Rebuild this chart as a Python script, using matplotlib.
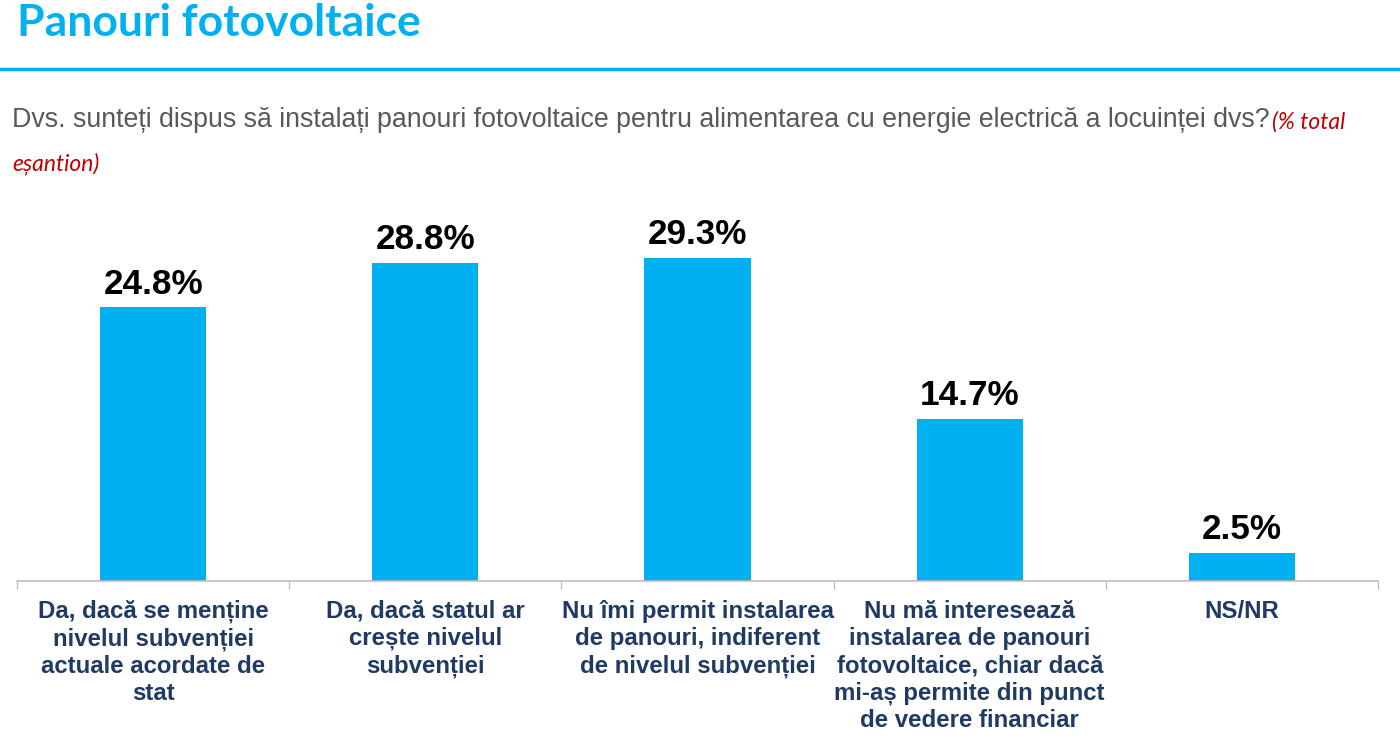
import matplotlib
matplotlib.use("Agg")
import matplotlib.pyplot as plt

categories = [
    "Da, dacă se menține\nnivelul subvenției\nactuale acordate de\nstat",
    "Da, dacă statul ar\ncrește nivelul\nsubvenției",
    "Nu îmi permit instalarea\nde panouri, indiferent\nde nivelul subvenției",
    "Nu mă interesează\ninstalarea de panouri\nfotovoltaice, chiar dacă\nmi-aș permite din punct\nde vedere financiar",
    "NS/NR",
]
values = [24.8, 28.8, 29.3, 14.7, 2.5]
value_labels = ["24.8%", "28.8%", "29.3%", "14.7%", "2.5%"]

title = "Panouri fotovoltaice"
question = "Dvs. sunteți dispus să instalați panouri fotovoltaice pentru alimentarea cu energie electrică a locuinței dvs?"
note1 = "(% total"
note2 = "eșantion)"

BLUE = "#00B0F0"
NAVY = "#1F3A63"
W, H = 1400, 742

fig = plt.figure(figsize=(W / 100, H / 100), dpi=100)
fig.patch.set_facecolor("white")

def fx(px):
    return px / W

def fy(py):
    return 1 - py / H

# title and rule
fig.text(fx(17), fy(23), title, fontsize=32, fontweight="bold", color=BLUE,
         family="Lato", va="center", ha="left")
fig.add_artist(plt.Line2D([0, 1], [fy(69), fy(69)], color=BLUE, lw=2.5,
                          transform=fig.transFigure))

# question
q = fig.text(fx(12), fy(120), question, fontsize=19.3, color="#595959",
             family="Liberation Sans", va="center", ha="left")
fig.canvas.draw()
bb = q.get_window_extent(renderer=fig.canvas.get_renderer())
fig.text(bb.x1 / W + fx(2), fy(122), note1, fontsize=16.5, color="#C00000",
         family="Lato", style="italic", va="center", ha="left")
fig.text(fx(12), fy(164), note2, fontsize=16.5, color="#C00000",
         family="Lato", style="italic", va="center", ha="left")

# axes
ax = fig.add_axes([fx(17), fy(581), fx(1378) - fx(17), fy(195) - fy(581)])
x = list(range(len(values)))
ax.bar(x, values, width=0.39, color=BLUE, zorder=2)
ax.set_xlim(-0.5, len(values) - 0.5)
ax.set_ylim(0, 35)
for s in ["top", "right", "left"]:
    ax.spines[s].set_visible(False)
ax.spines["bottom"].set_color("#BFBFBF")
ax.spines["bottom"].set_linewidth(1.2)
ax.set_yticks([])
ax.set_xticks([i - 0.5 for i in range(len(values) + 1)])
ax.set_xticklabels([])
ax.tick_params(axis="x", direction="out", length=6, width=1.0, color="#BFBFBF")

for xi, v, lab in zip(x, values, value_labels):
    ax.annotate(lab, (xi, v), xytext=(0, 5), textcoords="offset points",
                ha="center", va="bottom", fontsize=25.3, fontweight="bold",
                color="black", family="Liberation Sans")

for xi, cat in zip(x, categories):
    ax.annotate(cat, (xi, 0), xytext=(0, -13.5), textcoords="offset points",
                ha="center", va="top", fontsize=17.3, fontweight="bold",
                color=NAVY, family="Liberation Sans", linespacing=1.23,
                annotation_clip=False)

fig.savefig("out.png", dpi=100, facecolor="white")
